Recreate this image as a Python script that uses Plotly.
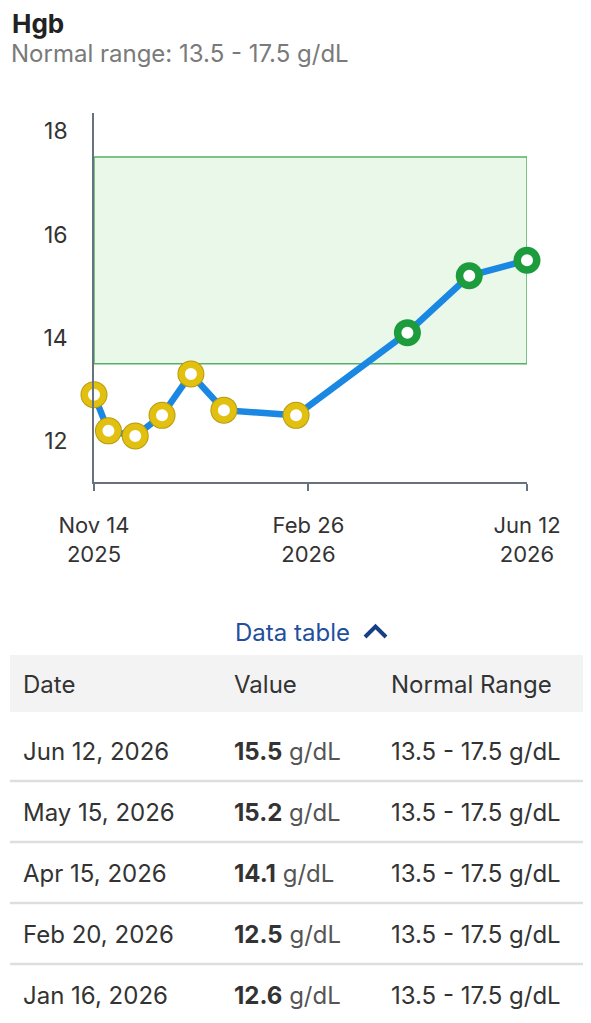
import plotly.graph_objects as go
from datetime import datetime

# ---- data ----
dates = ["2025-11-14", "2025-11-21", "2025-12-04", "2025-12-17", "2025-12-31",
         "2026-01-16", "2026-02-20", "2026-04-15", "2026-05-15", "2026-06-12"]
values = [12.9, 12.2, 12.1, 12.5, 13.3, 12.6, 12.5, 14.1, 15.2, 15.5]
range_low, range_high = 13.5, 17.5
unit = "g/dL"
x_tick_vals = ["2025-11-14", "2026-02-26", "2026-06-12"]
x_tick_text = ["Nov 14<br>2025", "Feb 26<br>2026", "Jun 12<br>2026"]
y_tick_vals = [12, 14, 16, 18]
table_headers = ["Date", "Value", "Normal Range"]

OFF = 8  # browser body margin
W, H = 591, 1023 - 2 * OFF
# plot area in screen pixels
L, R, T, B = 94, 527, 113, 482
FONT = "Inter, Roboto, sans-serif"


def px(x):
    return (x - L) / (R - L)


def py(y):
    return (B - y) / (B - T)


in_range = [range_low <= v <= range_high for v in values]
ring_colors = ["#1c9c3c" if ok else "#e2c010" for ok in in_range]
edge_colors = ["#1c9c3c" if ok else "#b89a10" for ok in in_range]

fig = go.Figure()
fig.add_trace(go.Scatter(x=dates, y=values, mode="lines",
                         line=dict(color="#1a88e2", width=6.5),
                         hoverinfo="skip", cliponaxis=False))
fig.add_trace(go.Scatter(x=dates, y=values, mode="markers",
                         marker=dict(size=27, color=edge_colors, line=dict(width=0)),
                         hoverinfo="skip", cliponaxis=False))
fig.add_trace(go.Scatter(x=dates, y=values, mode="markers",
                         marker=dict(size=18.5, color="white",
                                     line=dict(width=6.5, color=ring_colors)),
                         cliponaxis=False))

# normal range band
fig.add_shape(type="rect", xref="x", yref="y", x0=dates[0], x1=dates[-1],
              y0=range_low, y1=range_high, fillcolor="#e9f8e9",
              line=dict(color="#55b065", width=1.5), layer="below")

fig.update_xaxes(type="date", range=[dates[0], dates[-1]],
                 tickvals=x_tick_vals, ticktext=x_tick_text,
                 showgrid=False, zeroline=False,
                 showline=True, linecolor="#66727e", linewidth=1.5,
                 ticks="outside", ticklen=7, tickcolor="#66727e", tickwidth=1.5,
                 tickfont=dict(family=FONT, size=22, color="#333333"),
                 ticklabelstandoff=16)
fig.update_yaxes(range=[11.21, 18.35], tickvals=y_tick_vals,
                 showgrid=False, zeroline=False,
                 showline=True, linecolor="#66727e", linewidth=1.5,
                 ticks="", tickfont=dict(family=FONT, size=23, color="#333333"),
                 ticklabelstandoff=20)

ann = []
ann.append(dict(text="<b>Hgb</b>", x=px(10), y=py(24), xanchor="left", yanchor="middle",
                font=dict(family=FONT, size=26, color="#222222")))
ann.append(dict(text=f"Normal range: {range_low} - {range_high} {unit}", x=px(9), y=py(53),
                xanchor="left", yanchor="middle",
                font=dict(family=FONT, size=24, color="#7a7a7a")))
ann.append(dict(text="Data table", x=px(352), y=py(632), xanchor="right", yanchor="middle",
                font=dict(family=FONT, size=24, color="#1f4f9e")))

shapes = []
# chevron
shapes.append(dict(type="path", xref="paper", yref="paper",
                   path=f"M {px(365)} {py(637)} L {px(375.5)} {py(626.5)} L {px(386)} {py(637)}",
                   line=dict(color="#163f86", width=4)))
# header background
shapes.append(dict(type="rect", xref="paper", yref="paper", x0=px(10), x1=px(600),
                   y0=py(712), y1=py(655), fillcolor="#f3f3f3", line=dict(width=0)))
col_x = [21, 232, 389]
for cx, h in zip(col_x, table_headers):
    ann.append(dict(text=h, x=px(cx), y=py(684), xanchor="left", yanchor="middle",
                    font=dict(family=FONT, size=24, color="#333333")))

rows = list(zip(dates, values))[::-1][:5]
row_h = 61
for i, (d, v) in enumerate(rows):
    cy = 751 + i * row_h
    dt = datetime.strptime(d, "%Y-%m-%d")
    dtxt = f"{dt.strftime('%b')} {dt.day}, {dt.year}"
    ann.append(dict(text=dtxt, x=px(col_x[0]), y=py(cy), xanchor="left", yanchor="middle",
                    font=dict(family=FONT, size=24, color="#333333")))
    ann.append(dict(text=f"<b>{v}</b> <span style='color:#555555'>{unit}</span>",
                    x=px(col_x[1]), y=py(cy), xanchor="left", yanchor="middle",
                    font=dict(family=FONT, size=24, color="#333333")))
    ann.append(dict(text=f"{range_low} - {range_high} {unit}", x=px(col_x[2]), y=py(cy),
                    xanchor="left", yanchor="middle",
                    font=dict(family=FONT, size=24, color="#333333")))
    if i < len(rows) - 1:
        sy = cy + 30
        shapes.append(dict(type="line", xref="paper", yref="paper", x0=px(10), x1=px(600),
                           y0=py(sy), y1=py(sy), line=dict(color="#dedede", width=2.5)))

for a in ann:
    a.update(xref="paper", yref="paper", showarrow=False)

fig.update_layout(width=W, height=H,
                  margin=dict(l=L - OFF, r=W - (R - OFF), t=T - OFF, b=H - (B - OFF)),
                  paper_bgcolor="white", plot_bgcolor="white", showlegend=False,
                  annotations=ann, shapes=fig.layout.shapes + tuple(shapes),
                  font=dict(family=FONT))

fig.write_html("out.html")
